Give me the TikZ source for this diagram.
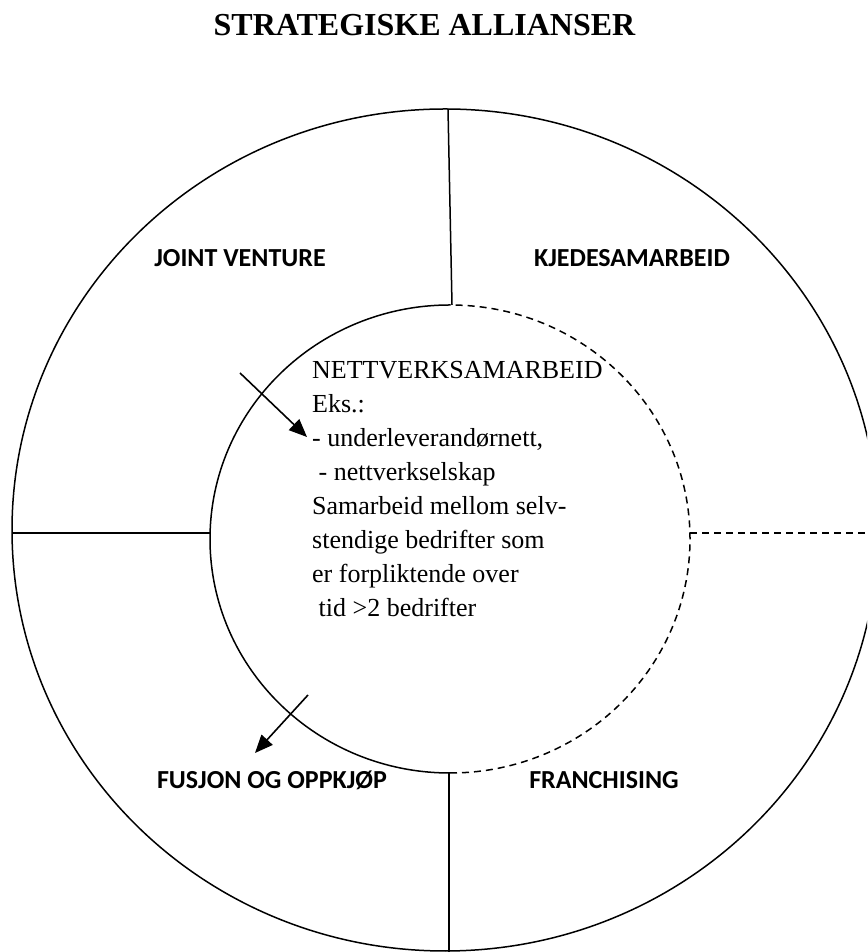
\documentclass[tikz,border=0pt]{standalone}
\usepackage{fontspec}
\setmainfont{Liberation Serif}
\newfontfamily\labelfont{Carlito}
\usetikzlibrary{arrows.meta}

\begin{document}
\begin{tikzpicture}[x=1pt,y=1pt,
  ring/.style={line width=1.5pt},
  dashring/.style={line width=1.5pt, dash pattern=on 7pt off 5pt},
  pointer/.style={line width=1.6pt, -{Triangle[length=18pt,width=15pt]}},
  sector/.style={font=\labelfont\bfseries\fontsize{26}{30}\selectfont, inner sep=0pt, anchor=base},
  bodytext/.style={font=\fontsize{26}{34}\selectfont, align=left, inner sep=0pt, anchor=north west}
]
\useasboundingbox (0,0) rectangle (867,952);
\clip (0,0) rectangle (867,952);

% title
\node[font=\bfseries\fontsize{32}{38}\selectfont, inner sep=0pt, anchor=base] (title) at (424.5,916) {STRATEGISKE ALLIANSER};

% outer ring
\draw[ring] (445,422) ellipse [x radius=433, y radius=421];

% inner ring: solid on the left, dashed on the right
\coordinate (ic) at (450,413);
\draw[ring] (ic) ++(0,234) arc [start angle=90, end angle=270, x radius=240, y radius=234];
\draw[dashring] (ic) ++(0,-234) arc [start angle=-90, end angle=90, x radius=240, y radius=234];

% dividers between the sectors
\coordinate (otop) at (448,843);
\coordinate (itop) at (452,647);
\coordinate (oleft) at (12,419);
\coordinate (ileft) at (211,419);
\coordinate (iright) at (690,419);
\coordinate (oright) at (870,419);
\coordinate (ibot) at (449,179);
\coordinate (obot) at (449,-5);
\draw[ring] (otop) -- (itop);
\draw[ring] (oleft) -- (ileft);
\draw[dashring] (iright) -- (oright);
\draw[ring] (ibot) -- (obot);

% sector labels
\node[sector] (jv) at (240,685) {JOINT VENTURE};
\node[sector] (kj) at (632,685) {KJEDESAMARBEID};
\node[sector] (fu) at (272,163) {FUSJON OG OPPKJØP};
\node[sector] (fr) at (604,163) {FRANCHISING};

% centre text
\node[bodytext] (net) at (312,590.5) {NETTVERKSAMARBEID\\
Eks.:\\
- underleverandørnett,\\
\ - nettverkselskap\\
Samarbeid mellom selv-\\
stendige bedrifter som\\
er forpliktende over\\
\ tid >2 bedrifter};

% arrows
\coordinate (a1s) at (240,579);
\coordinate (a1e) at (307,515);
\coordinate (a2s) at (308,257);
\coordinate (a2e) at (255,199);
\draw[pointer] (a1s) -- (a1e);
\draw[pointer] (a2s) -- (a2e);
\end{tikzpicture}
\end{document}
